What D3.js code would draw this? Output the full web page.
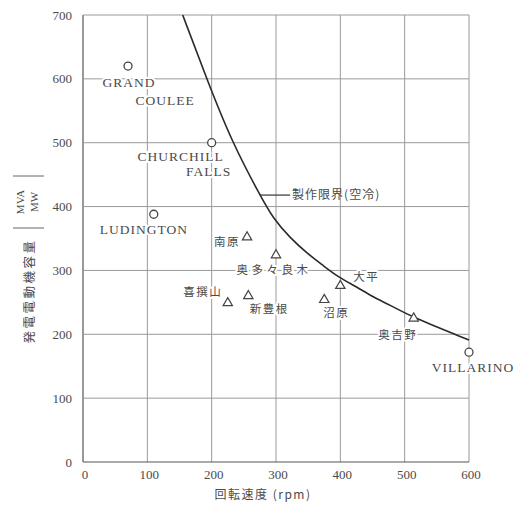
<!DOCTYPE html>
<html>
<head>
<meta charset="utf-8">
<script src="https://cdn.jsdelivr.net/npm/d3@7"></script>
<style>
html,body{margin:0;padding:0;background:#fff;}
svg{display:block;}
</style>
</head>
<body>
<svg id="chart" width="526" height="505"></svg>
<script>
// ---- data ----
const xTicks = [0, 100, 200, 300, 400, 500, 600];
const yTicks = [0, 100, 200, 300, 400, 500, 600, 700];

// overseas machines (circles)
const circleNames = ["GRAND COULEE", "CHURCHILL FALLS", "LUDINGTON", "VILLARINO"];
const circleRpm   = [70, 200, 110, 600];
const circleMva   = [620, 500, 388, 172];

// domestic machines (triangles)
const triNames = ["南原", "奥多々良木", "大平", "喜撰山", "新豊根", "沼原", "奥吉野"];
const triRpm   = [255, 300, 400, 225, 257, 375, 514];
const triMva   = [352, 324, 276, 249, 260, 254, 225];

// manufacturing limit curve (air cooled)
const limitRpm = [155, 193, 232, 275, 295, 322, 348, 373, 396, 426, 451, 477, 511, 600];
const limitMva = [700, 598, 500, 418, 382, 351, 327, 308, 290, 274, 258, 246, 227, 191];
const limitLabel = "製作限界(空冷)";

const xTitle = "回転速度 (rpm)";
const yTitle = "発電電動機容量";
const yUnitTop = "MVA";
const yUnitBottom = "MW";

// ---- layout (styles/positions) ----
const serif = "'Liberation Serif','DejaVu Serif',serif";
const cjk = "'Noto Sans CJK JP','Noto Sans CJK SC',sans-serif";
const textColor = "#4a4a4a";

const svg = d3.select("#chart");
const x = d3.scaleLinear().domain([0, 600]).range([83, 469]);
const y = d3.scaleLinear().domain([0, 700]).range([462, 15]);

// grid
const g = svg.append("g");
g.append("g").selectAll("line").data(xTicks).join("line")
  .attr("x1", d => x(d)).attr("x2", d => x(d))
  .attr("y1", y(0)).attr("y2", y(700))
  .attr("stroke", d => d === 0 ? "#555" : "#9a9a9a")
  .attr("stroke-width", d => d === 0 ? 1.2 : 1);
g.append("g").selectAll("line").data(yTicks).join("line")
  .attr("y1", d => y(d)).attr("y2", d => y(d))
  .attr("x1", x(0)).attr("x2", x(600))
  .attr("stroke", d => d === 0 ? "#555" : "#9a9a9a")
  .attr("stroke-width", d => d === 0 ? 1.2 : 1);

// tick labels
svg.append("g").selectAll("text").data(yTicks).join("text")
  .attr("x", 72).attr("y", d => y(d)).attr("dy", "0.35em")
  .attr("text-anchor", "end")
  .attr("font-family", serif).attr("font-size", 13).attr("fill", textColor)
  .text(d => d);
svg.append("g").selectAll("text").data(xTicks).join("text")
  .attr("x", d => x(d) + 2).attr("y", 474).attr("dy", "0.35em")
  .attr("text-anchor", "middle")
  .attr("font-family", serif).attr("font-size", 13).attr("fill", textColor)
  .text(d => d);

// axis titles
svg.append("text")
  .attr("x", 263).attr("y", 495).attr("dy", "0.35em")
  .attr("text-anchor", "middle")
  .attr("font-family", cjk).attr("font-size", 12).attr("letter-spacing", 1.5)
  .attr("fill", textColor)
  .text(xTitle);

const yt = svg.append("g").attr("transform", "translate(30,291) rotate(-90)");
yt.append("text").attr("text-anchor", "middle").attr("dy", "0.35em")
  .attr("font-family", cjk).attr("font-size", 12.5).attr("letter-spacing", 2.5)
  .attr("fill", textColor).text(yTitle);
const yu = svg.append("g").attr("transform", "translate(28,202) rotate(-90)");
yu.append("text").attr("text-anchor", "middle").attr("y", -8).attr("dy", "0.35em")
  .attr("font-family", serif).attr("font-size", 11).attr("fill", textColor).text(yUnitTop);
yu.append("text").attr("text-anchor", "middle").attr("y", 6).attr("dy", "0.35em")
  .attr("font-family", serif).attr("font-size", 11).attr("fill", textColor).text(yUnitBottom);
[-26, 26].forEach(o => {
  yu.append("line").attr("x1", o).attr("x2", o).attr("y1", -15).attr("y2", 16)
    .attr("stroke", "#666").attr("stroke-width", 1);
});

// limit curve
const curvePts = limitRpm.map((r, i) => [r, limitMva[i]]);
svg.append("path")
  .attr("d", d3.line().x(d => x(d[0])).y(d => y(d[1])).curve(d3.curveBasis)(curvePts))
  .attr("fill", "none").attr("stroke", "#2a2a2a").attr("stroke-width", 1.6);

// curve leader + label
svg.append("line")
  .attr("x1", x(275)).attr("x2", x(322)).attr("y1", y(418)).attr("y2", y(418))
  .attr("stroke", "#333").attr("stroke-width", 1.2);
svg.append("text")
  .attr("x", x(325)).attr("y", y(418)).attr("dy", "0.35em")
  .attr("font-family", cjk).attr("font-size", 12).attr("letter-spacing", 1)
  .attr("fill", textColor).text(limitLabel);

// label offsets (layout only)
const circleLabelLayout = [
  [{t: "GRAND", dx: 1, dy: 16}, {t: "COULEE", dx: 37, dy: 34}],
  [{t: "CHURCHILL", dx: -31, dy: 14}, {t: "FALLS", dx: -3, dy: 29}],
  [{t: "LUDINGTON", dx: -10, dy: 15}],
  [{t: "VILLARINO", dx: 4, dy: 15}]
];
const triLabelLayout = [
  {dx: -20, dy: 5}, {dx: -2, dy: 15}, {dx: 26, dy: -9}, {dx: -25, dy: -11},
  {dx: 21, dy: 13}, {dx: 12, dy: 13}, {dx: -16, dy: 17}
];

function halo(sel) {
  return sel.attr("stroke", "#fff").attr("stroke-width", 4)
    .attr("paint-order", "stroke").attr("stroke-linejoin", "round");
}

// circle labels
circleNames.forEach((n, i) => {
  const px = x(circleRpm[i]), py = y(circleMva[i]);
  circleLabelLayout[i].forEach(l => {
    halo(svg.append("text")
      .attr("x", px + l.dx).attr("y", py + l.dy).attr("dy", "0.35em")
      .attr("text-anchor", "middle")
      .attr("font-family", serif).attr("font-size", 13.5).attr("letter-spacing", 1)
      .attr("fill", textColor).text(l.t));
  });
});
// triangle labels
triNames.forEach((n, i) => {
  const px = x(triRpm[i]), py = y(triMva[i]);
  const l = triLabelLayout[i];
  halo(svg.append("text")
    .attr("x", px + l.dx).attr("y", py + l.dy).attr("dy", "0.35em")
    .attr("text-anchor", "middle")
    .attr("font-family", cjk).attr("font-size", 11.5).attr("letter-spacing", n.length > 3 ? 3.5 : 1.5)
    .attr("fill", textColor).text(n));
});

// markers
svg.append("g").selectAll("circle").data(circleRpm).join("circle")
  .attr("cx", d => x(d)).attr("cy", (d, i) => y(circleMva[i])).attr("r", 4)
  .attr("fill", "#fff").attr("stroke", "#444").attr("stroke-width", 1.3);
const tri = d3.symbol().type(d3.symbolTriangle).size(38);
svg.append("g").selectAll("path").data(triRpm).join("path")
  .attr("transform", (d, i) => `translate(${x(d)},${y(triMva[i])})`)
  .attr("d", tri())
  .attr("fill", "#fff").attr("stroke", "#444").attr("stroke-width", 1.2);
</script>
</body>
</html>
